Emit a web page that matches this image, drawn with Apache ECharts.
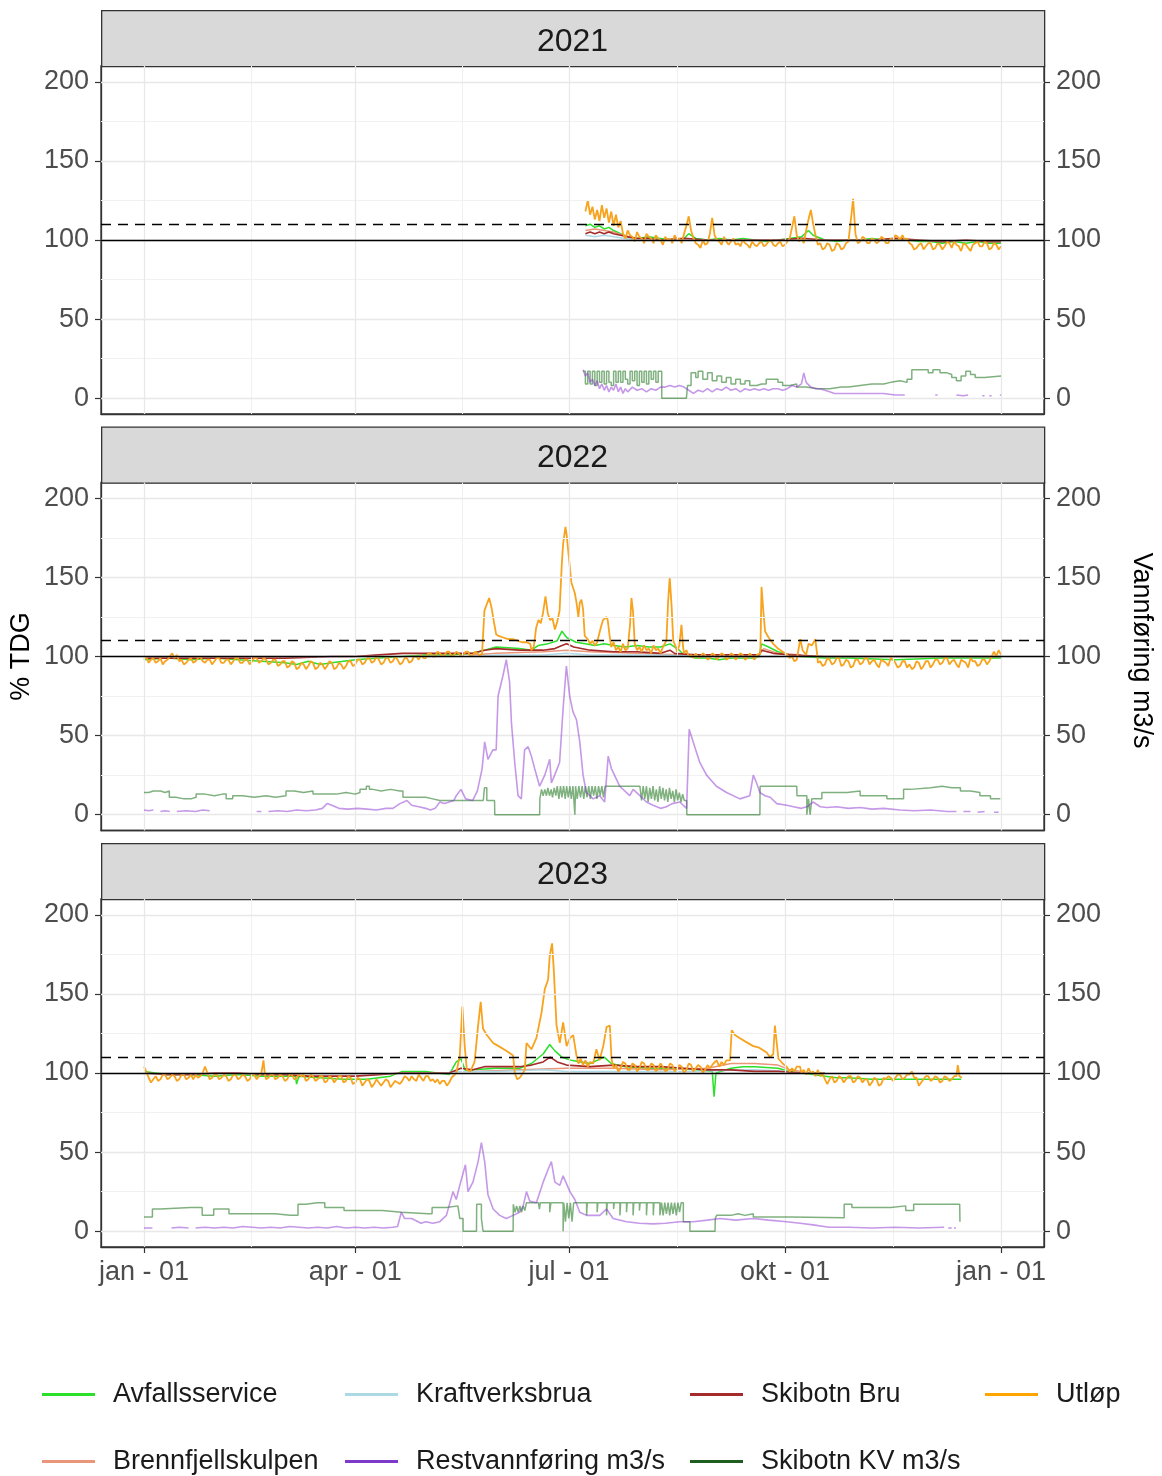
<!DOCTYPE html>
<html><head><meta charset="utf-8">
<script src="https://cdn.jsdelivr.net/npm/echarts@6/dist/echarts.min.js"></script>
<style>html,body{margin:0;padding:0;background:#fff}#c{width:1162px;height:1476px}</style>
</head><body><div id="c"></div><script>
// ---------- axes / labels ----------
const YEARS = ['2021', '2022', '2023'];
const X_TICKS = [0, 90, 181, 273, 365];
const X_TICK_LABELS = ['jan - 01', 'apr - 01', 'jul - 01', 'okt - 01', 'jan - 01'];
const X_MINOR = [45.5, 135.5, 227, 319];
const Y_TICKS = [0, 50, 100, 150, 200];
const Y_MINOR = [25, 75, 125, 175];
const REF_SOLID = 100;
const REF_DASHED = 110;
const LEFT_TITLE = '% TDG';
const RIGHT_TITLE = 'Vannføring m3/s';

// ---------- data: [day of year, value] ----------
// 2021
const avfall2021 = [[188,109],[190,110],[192,108],[194,109],[196,107],[198,108],[200,106],[203,104],[206,102],[210,101],[215,102],[220,101],[225,100],[230,101],[232,104],[235,101],[240,100],[245,101],[250,100],[255,101],[260,100],[265,99],[270,100],[275,101],[280,102],[283,106],[285,103],[290,100],[295,99],[300,100],[305,100],[310,101],[315,100],[320,101],[325,100],[330,99],[335,99],[340,98],[345,99],[350,98],[355,99],[360,98],[365,98]];
const kraft2021 = [[188,103],[192,102],[196,103],[200,102],[205,101],[210,100],[220,100],[230,100]];
const bru2021 = [[188,104],[190,105],[192,104],[194,105],[196,104],[198,105],[200,104],[203,103],[206,102],[210,101],[215,101],[220,100],[230,101],[240,100],[250,100],[260,100],[270,100],[280,101],[290,100],[300,100],[310,100],[320,101],[330,100],[340,99],[350,100],[360,99],[365,99]];
const brenn2021 = [[188,106],[192,107],[196,106],[200,105],[204,103],[210,101],[220,100]];
const utlop2021 = [[188,118],[189,125],[190,116],[191,121],[192,113],[193,119],[194,112],[195,122],[196,114],[197,120],[198,111],[199,118],[200,109],[201,116],[202,108],[203,112],[204,104],[205,101],[206,106],[207,103],[208,102],[209,99],[210,105],[211,102],[212,101],[213,98],[214,104],[215,102],[216,101],[217,98],[218,103],[219,101],[220,100],[221,97],[222,102],[223,100],[224,101],[225,98],[226,103],[227,100],[228,101],[229,98],[230,104],[231,109],[232,115],[233,106],[234,101],[235,98],[236,97],[237,95],[238,100],[239,97],[240,98],[241,104],[242,114],[243,103],[244,100],[245,99],[246,97],[247,102],[248,99],[249,97],[250,99],[251,101],[252,97],[253,98],[254,96],[255,100],[256,98],[257,97],[258,95],[259,99],[260,97],[261,96],[262,98],[263,99],[264,96],[265,97],[266,99],[267,100],[268,97],[269,96],[270,98],[271,99],[272,96],[273,97],[274,99],[275,101],[276,108],[277,115],[278,103],[279,99],[280,101],[281,98],[282,106],[283,113],[284,119],[285,110],[286,103],[287,97],[288,98],[289,94],[290,95],[291,98],[292,97],[293,93],[294,94],[295,98],[296,97],[297,94],[298,95],[299,98],[300,99],[301,112],[302,126],[303,104],[304,98],[305,99],[306,102],[307,101],[308,98],[309,98],[310,101],[311,100],[312,98],[313,99],[314,102],[315,101],[316,98],[317,98],[318,101],[319,100],[320,103],[321,102],[322,100],[323,103],[324,100],[325,101],[326,98],[327,97],[328,94],[329,95],[330,97],[331,98],[332,94],[333,96],[334,98],[335,98],[336,94],[337,95],[338,98],[339,97],[340,94],[341,96],[342,99],[343,98],[344,95],[345,99],[346,97],[347,96],[348,93],[349,98],[350,97],[351,95],[352,93],[353,97],[354,98],[355,99],[356,96],[357,96],[358,99],[359,98],[360,94],[361,95],[362,98],[363,97],[364,94],[365,96]];
const rest2021 = [[187,18],[188,14],[189,16],[190,10],[191,12],[192,8],[193,11],[194,6],[195,9],[196,5],[197,8],[198,4],[199,7],[200,5],[201,9],[202,4],[203,7],[204,3],[205,6],[206,4],[208,7],[210,5],[212,6],[214,4],[216,6],[218,5],[220,7],[222,7],[224,8],[226,7],[228,8],[230,7],[232,5],[234,3],[236,5],[238,4],[240,6],[242,4],[244,6],[246,5],[248,7],[250,5],[252,6],[254,4],[256,6],[258,5],[260,6],[262,5],[264,6],[266,5],[268,6],[270,6],[272,5],[274,6],[276,8],[278,7],[280,9],[281,16],[282,10],[284,7],[286,6],[288,6],[290,5],[292,4],[294,3],[296,3],[298,3],[300,3],[305,3],[310,3],[315,3],[320,2],[324,2],[325,'-'],[337,2],[338,2],[339,'-'],[346,2],[349,1.5],[351,2],[352,'-'],[357,1.5],[358,1.5],[359,'-'],[360,1.5],[361,1.5],[362,'-'],[364.5,2],[365,2]];
const kv2021 = [[187,17],[188,9],[189,17],[190,9],[191,17],[192,8],[193,17],[194,10],[195,17],[196,9],[197,17],[198,10],[199,8],[200,17],[201,10],[202,17],[203,10],[204,17],[205,12],[206,9],[207,17],[208,11],[209,17],[210,8],[211,17],[212,10],[213,17],[214,9],[215,17],[216,12],[217,17],[218,10],[219,17],[220.5,0],[231,0],[231.5,8],[233,16],[235,13],[236,17],[238,12],[240,16],[242,11],[244,14],[246,10],[248,13],[250,9],[252,12],[254,9],[256,11],[258,8],[261,9],[263,9],[265,12],[268,12],[270,10],[272,8],[275,9],[278,7],[282,6],[287,6],[292,7],[297,7],[300,8],[305,9],[310,9],[315,10],[318,11],[322,10],[325,12],[327,18],[332,18],[334,16],[336,18],[339,16],[342,15],[344,13],[346,11],[348,14],[350,17],[352,15],[354,13],[358,14],[365,14]];

// 2022
const avfall2022 = [[0,98],[10,99],[20,98],[30,99],[40,98],[50,97],[60,96],[65,95],[70,97],[75,95],[80,96],[90,98],[100,99],[110,100],[120,101],[130,101],[140,102],[145,104],[150,106],[160,105],[165,104],[168,107],[172,108],[176,110],[178,116],[180,112],[184,109],[188,108],[192,107],[196,108],[200,107],[205,106],[210,107],[215,106],[220,106],[224,108],[228,104],[230,101],[235,99],[240,99],[245,98],[250,99],[255,99],[260,99],[262,100],[263,108],[266,106],[270,103],[275,101],[280,100],[290,99],[300,99],[320,98],[340,99],[365,99]];
const kraft2022 = [[140,100],[150,101],[170,101],[180,102],[190,101],[200,101],[220,101],[240,100],[260,100],[270,100]];
const bru2022 = [[0,99],[20,99],[40,99],[60,99],[80,100],[90,100],[100,101],[110,102],[120,102],[130,102],[140,102],[145,104],[150,105],[160,104],[170,104],[175,105],[178,107],[180,108],[183,106],[190,104],[200,103],[210,103],[220,102],[224,104],[226,102],[235,101],[245,101],[255,101],[262,101],[263,104],[268,102],[275,101],[290,100],[310,100],[330,100],[350,100],[365,100]];
const brenn2022 = [[140,101],[150,102],[170,103],[180,104],[190,103],[210,102],[230,101],[262,101],[264,105],[270,102],[280,101]];
const utlop2022 = [[0,98],[1,100],[2,96],[3,98],[4,99],[5,96],[6,97],[7,99],[8,95],[9,97],[10,98],[11,100],[12,102],[13,99],[14,101],[15,97],[16,98],[17,95],[18,96],[19,98],[20,99],[21,96],[22,97],[23,99],[24,100],[25,97],[26,96],[27,98],[28,98],[29,95],[30,97],[31,99],[32,99],[33,96],[34,96],[35,98],[36,98],[37,95],[38,97],[39,99],[40,99],[41,96],[42,96],[43,98],[44,98],[45,95],[46,97],[47,99],[48,99],[49,96],[50,97],[51,99],[52,98],[53,95],[54,96],[55,98],[56,98],[57,94],[58,95],[59,97],[60,97],[61,93],[62,94],[63,97],[64,96],[65,92],[66,93],[67,96],[68,95],[69,92],[70,94],[71,97],[72,96],[73,92],[74,93],[75,96],[76,95],[77,92],[78,94],[79,97],[80,96],[81,92],[82,93],[83,96],[84,95],[85,92],[86,94],[87,97],[88,97],[89,94],[90,95],[91,98],[92,98],[93,95],[94,96],[95,99],[96,99],[97,96],[98,97],[99,100],[100,98],[101,95],[102,96],[103,99],[104,99],[105,96],[106,97],[107,100],[108,98],[109,95],[110,96],[111,99],[112,99],[113,96],[114,97],[115,100],[116,100],[117,98],[118,101],[119,99],[120,99],[121,102],[122,102],[123,100],[124,100],[125,103],[126,102],[127,100],[128,101],[129,103],[130,103],[131,100],[132,101],[133,103],[134,102],[135,100],[136,101],[137,103],[138,103],[139,100],[140,101],[141,103],[142,102],[143,100],[144,102],[145,129],[146,133],[147,137],[148,131],[149,122],[150,114],[151,113],[153,112],[155,111],[157,111],[159,110],[161,109],[163,109],[164.5,108],[165,104],[166,106],[167,118],[168,123],[169,121],[170,128],[171,138],[172,127],[173,123],[174,124],[175,117],[176,122],[177,129],[178,160],[178.5,171],[179.5,182],[180,177],[180.6,176],[181.6,153],[182,147],[182.7,146],[183.5,140],[184.2,134],[185,125],[185.6,134],[186.3,136],[187,130],[187.7,113],[189,111],[190,108],[191,110],[192,107],[193,109],[194.5,118],[195.5,123],[197,125],[197.5,123],[198.4,112],[199,106],[200,109],[201,104],[202,106],[203,103],[204,108],[205,104],[206,105],[207,120],[207.6,137],[208.3,128],[209,108],[210,104],[211,106],[212,103],[213,107],[214,104],[215,105],[216,102],[217,107],[218,104],[219,105],[220,102],[221,106],[222.5,110],[223.2,134],[223.9,150],[224.7,132],[225.4,110],[226.5,106],[227,103],[228,107],[228.9,120],[229.6,106],[230,102],[231,104],[232,100],[233,101],[234,99],[235,102],[236,99],[237,100],[238,102],[239,101],[240,98],[241,99],[242,102],[243,101],[244,98],[245,100],[246,102],[247,101],[248,98],[249,99],[250,102],[251,101],[252,98],[253,100],[254,102],[255,101],[256,98],[257,99],[258,102],[259,100],[260,98],[261,101],[262.5,102],[263,144],[263.7,130],[264.5,116],[266,112],[268,108],[270,105],[272,103],[274,101],[275,99],[276,100],[277,97],[278,98],[279.5,111],[280.5,104],[282,101],[283,108],[284.5,107],[285.9,111],[286.8,100],[287,96],[288,97],[289,94],[290,95],[291,99],[292,98],[293,95],[294,96],[295,99],[296,99],[297,94],[298,95],[299,98],[300,97],[301,93],[302,94],[303,98],[304,98],[305,95],[306,96],[307,99],[308,99],[309,95],[310,97],[311,98],[312,95],[313,93],[314,98],[315,97],[316,96],[317,94],[318,99],[319,98],[320,96],[321,93],[322,94],[323,97],[324,97],[325,93],[326,95],[327,92],[328,93],[329,97],[330,96],[331,92],[332,94],[333,97],[334,97],[335,93],[336,95],[337,98],[338,98],[339,95],[340,96],[341,99],[342,99],[343,95],[344,97],[345,98],[346,95],[347,93],[348,98],[349,97],[350,96],[351,93],[352,99],[353,97],[354,97],[355,94],[356,95],[357,98],[358,98],[359,95],[360,97],[361,100],[362,103],[363,100],[364,104],[365,101]];
const rest2022 = [[0,3],[2,2.5],[4,3],[5,'-'],[7,2],[9,2.5],[11,2],[12,'-'],[14,2],[18,2.5],[22,2],[25,3],[28,2.5],[29,'-'],[48,2],[50,2],[51,'-'],[53,2],[57,2.5],[61,2],[65,3],[69,2.5],[73,3],[76,4],[78,7],[80,6],[83,4],[87,3.5],[91,4],[95,3.5],[99,3],[103,4],[106,4],[109,7],[112,9],[114,6],[117,5],[120,4],[122,3],[124,4],[126,8],[128,7],[130,8],[132,9],[133,12],[135,16],[137,10],[140,9],[142,15],[144,29],[145.1,46],[146.5,35],[148.6,41],[150,41],[150.8,75],[152.9,88],[154.3,98],[155.7,84],[156.5,58],[157.9,33],[159.3,12],[160.7,10],[162.1,41],[163.6,43],[165,37],[166.4,29],[168.5,18],[170.7,25],[172.8,35],[173.5,20],[174.9,25],[177,33],[178.5,67],[179.9,94],[181.3,75],[182.7,65],[184.2,60],[185.6,46],[187,25],[188.4,14],[191.3,10],[194.1,12],[196.2,8],[197.7,37],[199.1,29],[202.6,18],[206.9,12],[208.3,16],[211.2,12],[214,8],[216.8,6],[220,4],[222.5,5],[225,7],[228.2,8],[231.1,4],[232.2,54],[233.9,46],[236.7,33],[239.6,25],[243.8,18],[248.1,14],[253.8,10],[258,12],[259.5,25],[260.9,20],[262.3,14],[264.5,12],[266.7,11],[269.5,7],[273.8,6],[276.6,5],[280,4],[282.3,5],[285,8],[288,5],[290.8,4.5],[295,5],[300,4],[305,4.5],[310,3.5],[315,4],[322,3],[328,2.5],[335,3],[342,2],[346,2],[347,'-'],[349,2],[352,2],[353,'-'],[355,1.5],[358,2],[359,'-'],[362,1.5],[364,1.5]];
const kv2022 = [[0,14],[2,15],[4,15],[7,14],[9,15],[10.8,11],[13.6,10],[17,10],[20,11],[22.2,13],[26,12],[30,13],[33.5,13],[35,10],[37.8,12],[42,11],[47,12],[52,11],[56,12],[60.5,15],[64,14],[68,15],[72,13],[77.6,13],[82,14],[86,13],[90,14],[92,16],[94.7,18],[96,16],[97.5,15],[101,16],[105,15],[108.9,15],[110.3,11],[115,11],[120,10],[123,9],[126,9],[130,9],[135,9],[140,9],[144.5,9],[145,17],[146,9],[149.3,9],[149.4,0],[168.5,0],[168.6,10],[169.3,16],[170,12],[170.7,16],[171.4,12],[172,17],[172.7,12],[173.4,16],[174,11],[174.7,17],[175.4,12],[176,18],[176.7,10],[177.4,18],[178,11],[178.7,18],[179.4,10],[180,18],[180.7,11],[181.4,18],[182,10],[182.7,18],[183.4,18],[183.5,0],[183.8,18],[184.5,10],[185.2,18],[185.9,11],[186.6,18],[187.3,10],[188,18],[188.7,11],[189.4,18],[190.1,10],[190.8,18],[191.5,12],[192.2,18],[192.9,10],[193.6,18],[194.3,12],[195,18],[195.7,11],[196.4,18],[211.2,18],[211.9,9],[212.6,18],[213.3,10],[214,18],[214.7,8],[215.4,17],[216.1,10],[216.8,18],[217.5,9],[218.2,16],[218.9,8],[219.6,18],[220.3,10],[221,17],[221.7,9],[222.4,16],[223.1,8],[223.8,17],[224.5,10],[225.2,15],[225.9,8],[226.6,16],[227.3,9],[228,14],[228.7,8],[229.4,13],[230.1,9],[231.1,9],[231.2,0],[262.3,0],[262.4,18],[278,18],[278.1,12],[281,12],[282.3,0],[283,10],[283.7,0],[284.4,10],[285.5,10],[288.7,14],[294,14],[299.4,15],[305,12],[316.4,10],[323.5,16],[326.4,17],[335,18],[340,17],[344,17],[347.7,15],[352,14],[356,12],[360.5,10],[364.7,10]];

// 2023
const avfall2023 = [[0,101],[10,99],[20,99],[30,98],[40,99],[50,98],[60,98],[64.5,98],[65,93],[66,98],[75,97],[85,96],[95,96],[105,98],[110,101],[120,101],[125,100],[130,99],[133,107],[135,109],[137,101],[140,102],[150,103],[160,103],[165,106],[170,112],[172.8,118],[175,114],[178,110],[182,108],[186,107],[190,106],[193,108],[196,110],[199,106],[205,104],[215,103],[225,103],[235,102],[242,101],[242.8,85],[243.6,100],[250,103],[255,104],[260,104],[270,103],[275,101],[280,100],[285,99],[290,98],[295,97],[300,97],[310,96],[320,96],[330,96],[340,96],[348,96]];
const kraft2023 = [[130,101],[150,101],[170,102],[180,101],[200,101],[230,101],[260,102],[275,101]];
const bru2023 = [[0,100],[10,99],[20,99],[30,100],[40,100],[50,99],[60,99],[70,98],[80,98],[90,98],[100,99],[110,100],[120,100],[130,100],[135,103],[140,102],[145,104],[150,104],[160,104],[165,105],[170,107],[173,110],[176,107],[180,105],[190,104],[200,105],[210,104],[220,104],[230,103],[240,102],[250,102],[260,101],[270,101],[280,100],[290,100]];
const brenn2023 = [[140,101],[160,102],[180,103],[200,103],[220,102],[240,103],[250,106],[260,106],[270,105],[275,102],[280,101]];
const utlop2023 = [[0,104],[1,101],[2,97],[3,94],[4,96],[5,98],[6,95],[7,96],[8,99],[9,99],[10,96],[11,97],[12,99],[13,98],[14,95],[15,96],[16,99],[17,99],[18,96],[19,97],[20,99],[21,96],[22,99],[23,97],[24,98],[25,100],[26,104],[27,100],[28,96],[29,97],[30,99],[31,99],[32,96],[33,97],[34,99],[35,98],[36,95],[37,96],[38,99],[39,99],[40,96],[41,97],[42,99],[43,98],[44,95],[45,96],[46,99],[47,99],[48,96],[49,98],[50,100],[50.9,108],[51.5,99],[52,96],[53,97],[54,99],[55,99],[56,96],[57,97],[58,99],[59,98],[60,95],[61,96],[62,99],[63,99],[64,96],[65,97],[66,99],[67,98],[68,99],[69,95],[70,96],[71,99],[72,98],[73,95],[74,96],[75,98],[76,98],[77,94],[78,95],[79,98],[80,97],[81,94],[82,96],[83,98],[84,98],[85,94],[86,95],[87,98],[88,97],[89,93],[90,94],[91,97],[92,96],[93,92],[94,94],[95,96],[96,95],[97,91],[98,93],[99,96],[100,94],[101,92],[102,94],[103,96],[104,95],[105,91],[106,93],[107,95],[108,94],[109,93],[110,95],[111,98],[112,97],[113,95],[114,98],[115,96],[116,95],[117,99],[118,97],[119,95],[120,98],[121,98],[122,95],[123,96],[124,94],[125,96],[126,93],[127,95],[128,95],[129,92],[130,94],[131,97],[131.6,97],[133,100],[134.5,111],[135.6,142],[136.6,117],[137.5,102],[139,101],[140.8,107],[142.3,130],[143.4,145],[144.4,128],[146,124],[148.7,119],[151,117],[154.3,114],[157.2,111],[157.9,100],[159,96],[160,97],[161,99],[162.2,102],[162.9,119],[165,115],[167.1,122],[169.3,138],[170.7,153],[172.1,159],[172.8,174],[173.8,182],[174.5,166],[175.7,130],[177.1,119],[178.5,132],[180,117],[181.4,122],[182.8,124],[184.2,111],[185,106],[186,109],[187,105],[188,108],[189,104],[190,107],[191.3,106],[192.7,115],[194,108],[195.6,117],[197,129],[198.4,130],[199.1,109],[200,103],[201,105],[202,101],[203,103],[204,107],[205,106],[206,102],[207,102],[208,106],[209,105],[210,101],[211,103],[212,107],[213,106],[214,102],[215,102],[216,106],[217,105],[218,101],[219,103],[220,106],[221,104],[222,101],[223,102],[224,106],[225,105],[226,101],[227,103],[228,105],[229,104],[230,100],[231,102],[232,106],[233,105],[234,101],[235,103],[236,105],[237,104],[238,100],[239,102],[240,105],[241,103],[242.5,106],[243.9,108],[245,104],[246,107],[247,105],[248,108],[249.6,108],[250.3,127],[251.7,124],[253.8,122],[256,120],[259.5,117],[262,116],[265.2,113],[266.6,110],[268,112],[268.7,130],[270.2,109],[272,106],[273.7,104],[275,101],[276,103],[277,101],[278,104],[279.4,104],[280,100],[281,102],[282,99],[283,103],[284,100],[285,101],[286,98],[287,102],[288,98],[289,100],[290,96],[291,93],[292,96],[293,98],[294,94],[295,95],[296,98],[297,97],[298,94],[299,96],[300,98],[301,98],[302,94],[303,95],[304,98],[305,97],[306,94],[307,96],[308,96],[309,92],[310,94],[311,97],[312,96],[313,92],[314,93],[315,97],[316,96],[317,98],[318,97],[319,95],[320,97],[321,99],[322,99],[323,96],[324,97],[325,99],[326,99],[327,101],[328,97],[329,97],[330,92],[331,94],[332,96],[333,98],[334,98],[335,95],[336,96],[337,98],[338,97],[339,94],[340,95],[341,98],[342,97],[343,95],[344,96],[345,98],[346,98],[346.6,105],[347.3,98],[348.3,97]];
const rest2023 = [[0,2],[2,2],[3.6,2],[4,'-'],[11.7,2],[15,2.5],[19,2],[20,'-'],[22,2],[26,2.5],[30,2],[34,2.5],[38,2],[42,3],[46,2.5],[50,2],[54,2.5],[58,2],[62,3],[66,2.5],[70,2],[74,2.5],[78,2],[82,3],[86,2],[90,2.5],[94,2],[98,2.5],[102,2],[106,2.5],[108,3],[109.6,12],[111,8],[114,8],[118,5],[120,6],[123,5],[126,6],[128.8,10],[131.6,25],[133,20],[134.5,29],[136.9,42],[138,25],[140.1,31],[142.3,44],[143.7,56],[145.1,44],[146.5,23],[148.7,14],[151.5,10],[154.3,8],[157.2,10],[160,12],[161.5,16],[162.9,25],[164.3,19],[167.1,18],[170,31],[172.1,39],[173.5,44],[175,31],[177.1,29],[178.5,35],[181.4,25],[183.5,20],[185.6,12],[188.5,10],[194.1,10],[197,14],[199.8,8],[205.5,6],[211,5],[216.9,4.6],[222,5],[228.2,6],[233.9,6],[240,7],[245.3,8],[252,7],[259.5,8],[266,7],[273.7,6],[279.4,5],[285,4],[291.7,2.5],[300,2.5],[310,2],[320,2.5],[330,2],[340.8,2.5],[341.5,'-'],[342.5,2],[344,2],[344.5,'-'],[345,2],[345.8,2]];
const kv2023 = [[0,9],[3.6,14],[6.9,15],[19.9,15],[24.8,10],[29.7,14],[36.2,11],[52.5,11],[55.8,10],[62.3,10],[65.6,17],[68.9,18],[73.8,18],[77,15],[85.2,13],[101.5,12],[109.6,11],[121.1,11],[122.7,15],[128.8,16],[133.7,16],[134.5,8],[135.9,0],[141.6,0],[141.7,17],[143.7,8],[144.4,0],[157.2,0],[157.3,17],[158,12],[158.7,16],[159.4,12],[160.1,16],[160.8,12],[161.5,16],[162.2,13],[162.9,18],[168,18],[168.4,14],[168.8,18],[172.8,12],[173.3,18],[178.5,0],[178.8,18],[179.5,6],[180.2,18],[180.9,8],[181.6,18],[182.3,6],[183,18],[184.2,18],[188.5,10],[188.8,18],[193,12],[193.3,18],[197,10],[197.3,18],[200,14],[200.3,18],[202.7,10],[203,18],[205.5,12],[205.8,18],[208.3,10],[208.6,18],[211,13],[211.3,18],[214,10],[214.3,18],[216.9,10],[217.2,18],[219.7,10],[220.4,18],[221.1,10],[221.8,18],[222.5,11],[223.2,18],[223.9,10],[224.6,18],[225.3,11],[226,18],[226.7,10],[227.4,18],[228.1,12],[228.8,18],[229.7,6],[232.5,0],[243.2,0],[243.3,8],[243.9,10],[250,11],[253,10],[256,11],[259.5,9],[265,9],[270,9],[275.3,8.5],[298.2,17],[301.5,15],[310,15],[318,16],[324.4,13],[327.8,17],[347.4,17],[347.5,6]];

// ---------- series definitions ----------
const NAMES = ['Avfallsservice','Kraftverksbrua','Skibotn Bru','Utløp','Brennfjellskulpen','Restvannføring m3/s','Skibotn KV m3/s'];
const SERIES_DEF = [
  {name:'Avfallsservice', key:'#2AE02A', line:'#2AE02A', width:1.5, step:false, z:3, data:[avfall2021, avfall2022, avfall2023]},
  {name:'Brennfjellskulpen', key:'#E9967A', line:'#E9967A', width:1.5, step:false, z:3, data:[brenn2021, brenn2022, brenn2023]},
  {name:'Kraftverksbrua', key:'#ADD8E6', line:'#ADD8E6', width:1.5, step:false, z:3, data:[kraft2021, kraft2022, kraft2023]},
  {name:'Skibotn Bru', key:'#A52A2A', line:'#A52A2A', width:1.6, step:false, z:3, data:[bru2021, bru2022, bru2023]},
  {name:'Utløp', key:'#FFA500', line:'#F8A31E', width:1.8, step:false, z:4, data:[utlop2021, utlop2022, utlop2023]},
  {name:'Skibotn KV m3/s', key:'#1E5E1E', line:'rgba(0,100,0,0.5)', width:1.5, step:'end', z:5, data:[kv2021, kv2022, kv2023]},
  {name:'Restvannføring m3/s', key:'#7D3AC8', line:'rgba(140,50,210,0.5)', width:1.6, step:false, z:6, data:[rest2021, rest2022, rest2023]}
];

// ---------- layout ----------
const FONT = "'Liberation Sans', Arial, Helvetica, sans-serif";
const GRID_LEFT = 101, GRID_RIGHT = 118, GRID_H = 348, STRIP_H = 56;
const GRID_TOPS = [66, 482.5, 899];
const PANEL_W = 1162 - GRID_LEFT - GRID_RIGHT;

const grids = GRID_TOPS.map(t => ({left: GRID_LEFT, right: GRID_RIGHT, top: t, height: GRID_H,
  show: true, borderColor: '#333333', borderWidth: 1.3, backgroundColor: '#fff'}));

const xAxes = YEARS.map((y, i) => ({
  type: 'value', gridIndex: i, min: -18.3, max: 383.3,
  splitLine: {show: false}, axisLine: {show: true, onZero: false, lineStyle: {color: '#333', width: 1.3}},
  axisTick: {show: i === 2, length: 6, lineStyle: {color: '#333', width: 1.2}, customValues: X_TICKS},
  axisLabel: {show: i === 2, customValues: X_TICKS, margin: 12, fontSize: 27, color: '#4D4D4D', fontFamily: FONT,
    formatter: v => X_TICK_LABELS[X_TICKS.indexOf(v)] || ''}
}));

const yAxes = [];
YEARS.forEach((y, i) => {
  ['left', 'right'].forEach(pos => {
    yAxes.push({
      type: 'value', gridIndex: i, position: pos, min: -10, max: 210,
      splitLine: {show: false}, axisLine: {show: true, onZero: false, lineStyle: {color: '#333', width: 1.3}},
      axisTick: {show: true, length: 6, lineStyle: {color: '#333', width: 1.2}, customValues: Y_TICKS},
      axisLabel: {show: true, customValues: Y_TICKS, margin: 12, fontSize: 27, color: '#4D4D4D', fontFamily: FONT,
        padding: [4, 0, 0, 0]}
    });
  });
});

const gridLineData = [
  ...Y_MINOR.map(v => ({yAxis: v, lineStyle: {color: '#F1F1F1', width: 1}})),
  ...X_MINOR.map(v => ({xAxis: v, lineStyle: {color: '#F1F1F1', width: 1}})),
  ...Y_TICKS.map(v => ({yAxis: v, lineStyle: {color: '#E8E8E8', width: 1.3}})),
  ...X_TICKS.map(v => ({xAxis: v, lineStyle: {color: '#E8E8E8', width: 1.3}}))
];

const series = [];
YEARS.forEach((y, gi) => {
  series.push({
    type: 'line', name: '_grid' + gi, xAxisIndex: gi, yAxisIndex: gi * 2, data: [], z: 1, silent: true,
    markLine: {silent: true, symbol: ['none', 'none'], label: {show: false}, animation: false,
      lineStyle: {type: 'solid'}, data: gridLineData}
  });
  SERIES_DEF.forEach(d => {
    series.push({
      type: 'line', name: d.name, xAxisIndex: gi, yAxisIndex: gi * 2, data: d.data[gi],
      showSymbol: false, symbol: 'none', step: d.step, connectNulls: false, silent: true,
      lineStyle: {color: d.line, width: d.width}, itemStyle: {color: d.key}, z: d.z
    });
  });
  series.push({
    type: 'line', name: '_ref' + gi, xAxisIndex: gi, yAxisIndex: gi * 2, data: [], z: 10, silent: true,
    markLine: {silent: true, symbol: ['none', 'none'], label: {show: false}, animation: false,
      data: [
        {yAxis: REF_SOLID, lineStyle: {color: '#000', width: 1.4, type: 'solid'}},
        {yAxis: REF_DASHED, lineStyle: {color: '#000', width: 1.4, type: [10, 7]}}
      ]}
  });
});

// legends: one component per entry, arranged in a 4-column / 2-row block
const LEG_COLS = [42, 345, 690, 985];
const LEG_ROWS = [1381, 1448];
const legendPlace = {
  'Avfallsservice': [0, 0], 'Kraftverksbrua': [1, 0], 'Skibotn Bru': [2, 0], 'Utløp': [3, 0],
  'Brennfjellskulpen': [0, 1], 'Restvannføring m3/s': [1, 1], 'Skibotn KV m3/s': [2, 1]
};
const legends = NAMES.map(n => {
  const d = SERIES_DEF.find(s => s.name === n);
  const p = legendPlace[n];
  return {
    left: LEG_COLS[p[0]], top: LEG_ROWS[p[1]], padding: 0, orient: 'horizontal',
    icon: 'rect', itemWidth: 53, itemHeight: 3, selectedMode: false,
    textStyle: {fontSize: 27, color: '#1A1A1A', fontFamily: FONT, padding: [0, 0, 0, 13]},
    data: [{name: n, itemStyle: {color: d.key, borderWidth: 0, opacity: 1}}]
  };
});

const graphics = [];
YEARS.forEach((y, i) => {
  const top = GRID_TOPS[i] - STRIP_H;
  graphics.push({type: 'rect', left: GRID_LEFT, top: top, z: 0,
    shape: {width: PANEL_W, height: STRIP_H},
    style: {fill: '#D9D9D9', stroke: '#333333', lineWidth: 1.3}});
  graphics.push({type: 'text', x: GRID_LEFT + PANEL_W / 2, y: top + STRIP_H / 2 + 4, z: 1,
    style: {text: y, fill: '#1A1A1A', font: '32px ' + FONT, align: 'center', verticalAlign: 'middle'}});
});
const midY = GRID_TOPS[1] + GRID_H / 2;
graphics.push({type: 'text', x: 22, y: midY, rotation: Math.PI / 2,
  style: {text: LEFT_TITLE, fill: '#000', font: '27px ' + FONT, align: 'center', verticalAlign: 'middle'}});
graphics.push({type: 'text', x: 1141, y: midY - 6, rotation: -Math.PI / 2,
  style: {text: RIGHT_TITLE, fill: '#000', font: '27px ' + FONT, align: 'center', verticalAlign: 'middle'}});

const chart = echarts.init(document.getElementById('c'), null, {renderer: 'canvas'});
chart.setOption({
  animation: false,
  backgroundColor: '#fff',
  textStyle: {fontFamily: FONT},
  grid: grids,
  xAxis: xAxes,
  yAxis: yAxes,
  legend: legends,
  graphic: graphics,
  series: series
});
</script></body></html>
